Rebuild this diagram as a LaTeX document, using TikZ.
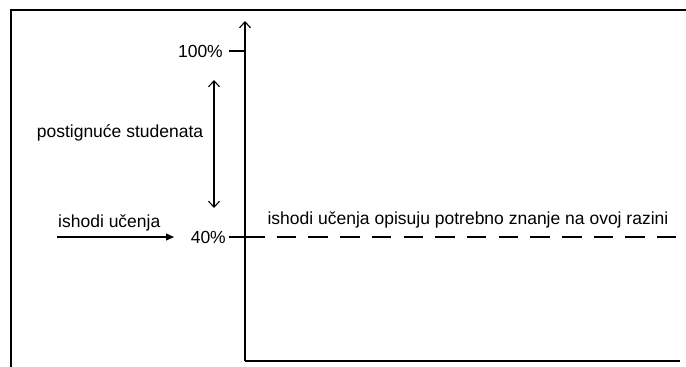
\documentclass[tikz,border=0pt]{standalone}
\usepackage{fontspec}
\setmainfont{Liberation Sans}
\usetikzlibrary{arrows.meta}
\begin{document}
\begin{tikzpicture}[x=1pt,y=-1pt,
  lbl/.style={inner sep=0pt,font=\fontsize{17.5}{20}\selectfont},
  axisline/.style={line width=1.6pt},
  tickline/.style={line width=1.3pt},
  openarrow/.style={line width=1.3pt,-{Straight Barb[length=6pt,width=11pt,line width=1.1pt]}},
  dblarrow/.style={line width=1.1pt,{Straight Barb[length=6pt,width=11pt]}-{Straight Barb[length=6pt,width=11pt]}},
  fillarrow/.style={line width=1.1pt,-{Triangle[length=8pt,width=7pt]}},
  dashline/.style={line width=2.5pt,dash pattern=on 19.5pt off 12.2pt}]
\useasboundingbox (0,0) rectangle (686,367);
% frame (top and left edges)
\coordinate (fl) at (11,367);
\coordinate (ftl) at (11,10);
\coordinate (fr) at (686,10);
\draw[line width=2pt] (fl) -- (ftl) -- (fr);
% axes
\coordinate (O) at (245,361);
\coordinate (ytop) at (245,21);
\coordinate (xend) at (680,361);
\draw[axisline] (O) -- (xend);
\draw[openarrow] (O) -- (ytop);
% 100% tick
\node[lbl,anchor=east] (p100) at (223,51) {100\%};
\coordinate (t100a) at (229,51);
\coordinate (t100b) at (245,51);
\draw[tickline] (t100a) -- (t100b);
% 40% tick and dashed line
\node[lbl,anchor=east] (p40) at (226,237) {40\%};
\coordinate (t40a) at (229,237);
\coordinate (t40b) at (245,237);
\coordinate (d40e) at (676,237);
\draw[tickline] (t40a) -- (t40b);
\draw[dashline] (t40b) -- (d40e);
% double arrow
\coordinate (dtop) at (214,80);
\coordinate (dbot) at (214,208);
\draw[dblarrow] (dtop) -- (dbot);
\node[lbl] (post) at (120,133) {postignuće studenata};
% ishodi arrow
\node[lbl,anchor=west] (ish) at (58,223) {ishodi učenja};
\coordinate (ia) at (57,237);
\coordinate (ib) at (174,237);
\draw[fillarrow] (ia) -- (ib);
% top label of dashed line
\node[lbl] (opis) at (468,220) {ishodi učenja opisuju potrebno znanje na ovoj razini};
\end{tikzpicture}
\end{document}
